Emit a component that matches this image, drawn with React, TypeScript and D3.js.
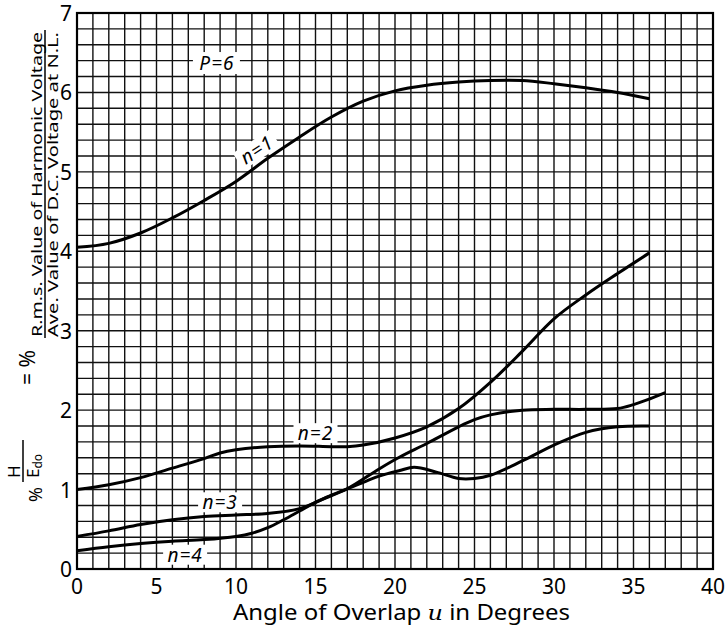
import React from 'react';
import * as d3 from 'd3';

// harmonic voltage vs angle of overlap, p = 6
const xTicks = [0, 5, 10, 15, 20, 25, 30, 35, 40];
const yTicks = [0, 1, 2, 3, 4, 5, 6, 7];

const n1: [number, number][] = [
  [0, 4.05], [2, 4.1], [4, 4.23], [6, 4.42], [8, 4.64], [10, 4.88], [12, 5.17],
  [14, 5.44], [16, 5.69], [18, 5.89], [20, 6.02], [22, 6.09], [24, 6.13],
  [26, 6.15], [28, 6.15], [30, 6.11], [32, 6.06], [34, 6.0], [36, 5.92],
];
const n2: [number, number][] = [
  [0, 1.0], [2, 1.06], [4, 1.15], [6, 1.27], [8, 1.39], [9, 1.46], [10, 1.5],
  [12, 1.54], [14, 1.55], [16, 1.54], [17, 1.54], [18, 1.56], [20, 1.65],
  [22, 1.79], [24, 2.02], [26, 2.35], [28, 2.74], [30, 3.15], [32, 3.45],
  [34, 3.72], [36, 3.98],
];
const n3: [number, number][] = [
  [0, 0.41], [2, 0.48], [4, 0.56], [6, 0.62], [8, 0.66], [10, 0.68], [12, 0.7],
  [14, 0.76], [16, 0.93], [18, 1.09], [19, 1.17], [20.3, 1.24], [21.2, 1.28],
  [22.6, 1.22], [24, 1.14], [25, 1.14], [26, 1.18], [28, 1.36], [30, 1.56],
  [32, 1.72], [34, 1.79], [36, 1.8],
];
const n4: [number, number][] = [
  [0, 0.23], [2, 0.28], [4, 0.32], [6, 0.35], [8, 0.37], [10, 0.41], [11, 0.45],
  [12, 0.52], [13, 0.62], [14, 0.73], [15, 0.84], [17, 1.01], [19, 1.26],
  [20.3, 1.41], [22, 1.58], [24, 1.79], [25, 1.88], [26, 1.94], [28, 2.0],
  [30, 2.01], [32, 2.01], [34, 2.02], [35, 2.07], [36, 2.14], [37, 2.22],
];
const seriesList = [n1, n2, n3, n4];
const curveLabels = ['n=1', 'n=2', 'n=3', 'n=4'];

const FONT = '"Noto Sans", "DejaVu Sans", sans-serif';

export default function App() {
  const x = d3.scaleLinear().domain([0, 40]).range([77, 713]);
  const y = d3.scaleLinear().domain([0, 7]).range([569, 13]);

  const line = d3.line<[number, number]>()
    .x(d => x(d[0]))
    .y(d => y(d[1]))
    .curve(d3.curveCatmullRom.alpha(0.5));

  const gridX = d3.range(0, 41);
  const gridY = d3.range(0, 36).map(i => +(i * 0.2).toFixed(1));

  // label anchors in data units
  const labelPos: [number, number, number][] = [
    [11.3, 5.28, -33],
    [15.0, 1.71, 0],
    [9.0, 0.84, 0],
    [6.8, 0.18, 0],
  ];

  return (
    <svg width={728} height={631} style={{ position: 'absolute', left: 0, top: 0, background: '#fff' }}>
      {/* grid */}
      <g stroke="#111" strokeWidth={1.4}>
        {gridX.map(u => (
          <line key={'gx' + u} x1={x(u)} x2={x(u)} y1={y(0)} y2={y(7)} />
        ))}
        {gridY.map(v => (
          <line key={'gy' + v} x1={x(0)} x2={x(40)} y1={y(v)} y2={y(v)} />
        ))}
      </g>
      <rect x={x(0)} y={y(7)} width={x(40) - x(0)} height={y(0) - y(7)} fill="none" stroke="#000" strokeWidth={2.2} />

      {/* curves */}
      {seriesList.map((s, i) => (
        <path key={i} d={line(s) || ''} fill="none" stroke="#000" strokeWidth={3} />
      ))}

      {/* curve labels */}
      {curveLabels.map((t, i) => {
        const [u, v, a] = labelPos[i];
        return (
          <g key={t} transform={`translate(${x(u)},${y(v)}) rotate(${a})`}>
            <rect x={-22} y={-10} width={44} height={20} fill="#fff" />
            <text textAnchor="middle" dominantBaseline="central" fontFamily={FONT} fontStyle="italic" fontSize={19} letterSpacing={1} fill="#000">
              {t}
            </text>
          </g>
        );
      })}
      <g transform={`translate(${x(8.8)},${y(6.37)})`}>
        <rect x={-24} y={-11} width={47} height={22} fill="#fff" />
        <text textAnchor="middle" dominantBaseline="central" fontFamily={FONT} fontStyle="italic" fontSize={19} letterSpacing={1} fill="#000">P=6</text>
      </g>

      {/* y ticks */}
      {yTicks.map(v => (
        <text key={'yt' + v} x={72} y={y(v)} textAnchor="end" dominantBaseline="central" fontFamily={FONT} fontSize={21} fill="#000">
          {v}
        </text>
      ))}
      {/* x ticks */}
      {xTicks.map(u => (
        <text key={'xt' + u} x={x(u)} y={586} textAnchor="middle" dominantBaseline="central" fontFamily={FONT} fontSize={21} fill="#000">
          {u}
        </text>
      ))}

      {/* x title */}
      <text x={233} y={620} fontFamily={FONT} fontSize={21} fill="#000" textLength={337} lengthAdjust="spacingAndGlyphs">
        Angle of Overlap <tspan fontFamily="DejaVu Serif, serif" fontStyle="italic">u</tspan> in Degrees
      </text>

      {/* y title */}
      <g fontFamily={FONT} fill="#000">
        <text transform="translate(42,337) rotate(-90)" fontSize={14.5} textLength={305} lengthAdjust="spacingAndGlyphs">
          R.m.s. Value of Harmonic Voltage
        </text>
        <line x1={45} x2={45} y1={338} y2={30} stroke="#000" strokeWidth={1.5} />
        <text transform="translate(58,337) rotate(-90)" fontSize={14.5} textLength={305} lengthAdjust="spacingAndGlyphs">
          Ave. Value of D.C. Voltage at N.L.
        </text>
        <text transform="translate(35,385) rotate(-90)" fontSize={21}>= %</text>
        <text transform="translate(20,478) rotate(-90)" fontSize={17}>H</text>
        <line x1={23} x2={23} y1={482} y2={440} stroke="#000" strokeWidth={1.5} />
        <text transform="translate(39,478) rotate(-90)" fontSize={17}>E<tspan fontSize={12} dy={3}>do</tspan></text>
        <text transform="translate(42,502) rotate(-90)" fontSize={18}>%</text>
      </g>
    </svg>
  );
}
